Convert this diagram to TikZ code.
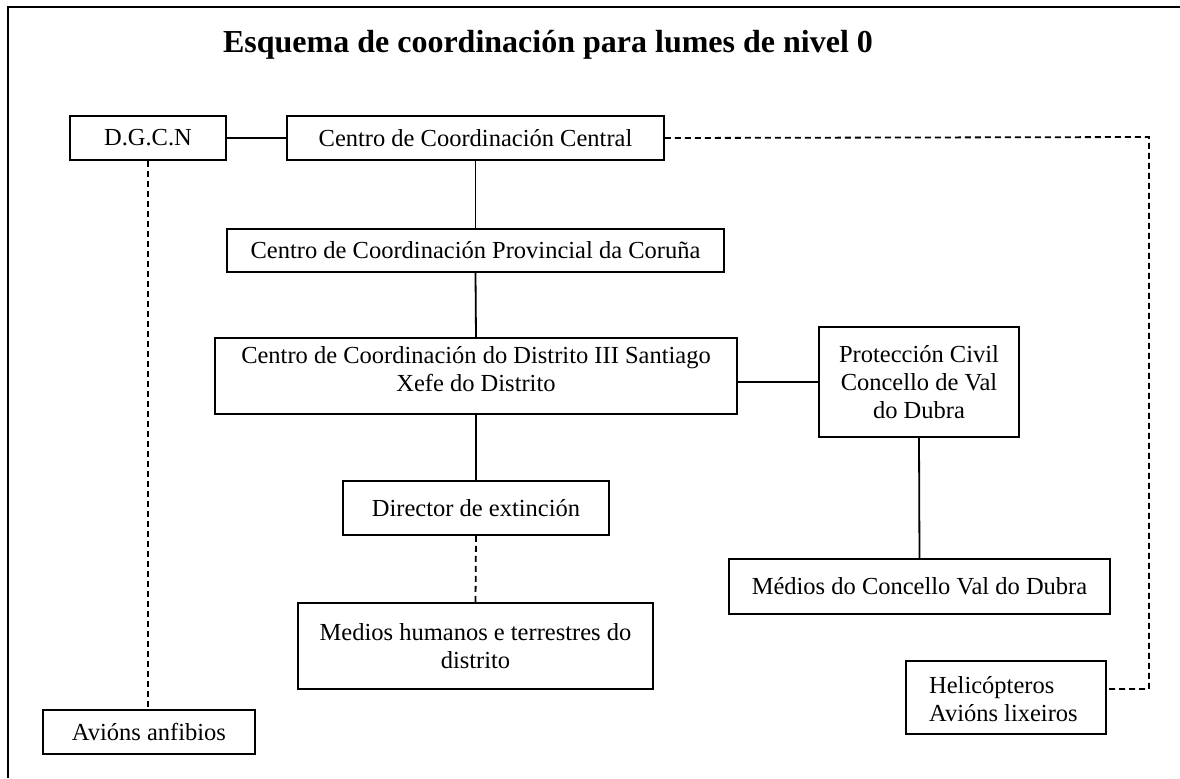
\documentclass[tikz,border=0pt]{standalone}
\usepackage{fontspec}
\setmainfont{Liberation Serif}
\begin{document}
\begin{tikzpicture}[x=0.5pt,y=-0.5pt,
  box/.style={draw=black,line width=0.9pt,rectangle,inner sep=0pt,align=center,
    font=\fontsize{12.25pt}{14pt}\selectfont},
  link/.style={draw=black,line width=0.9pt},
  dlink/.style={draw=black,line width=0.9pt,dash pattern=on 3pt off 2pt},
  frameline/.style={draw=black,line width=1pt}]
\useasboundingbox (0,0) rectangle (1180,778);
\draw[frameline] (8,778) -- (8,7) -- (1180,7);
\node (title) at (548,45) {\fontsize{16pt}{19pt}\selectfont\bfseries Esquema de coordinación para lumes de nivel 0};
\node[box,minimum width=78pt,minimum height=22pt] (dgcn) at (148,138) {D.G.C.N};
\node[box,minimum width=188.5pt,minimum height=22pt] (central) at (475.5,138) {Centro de Coordinación Central};
\node[box,minimum width=248.5pt,minimum height=21.5pt] (prov) at (475.5,250.5) {Centro de Coordinación Provincial da Coruña};
\node[box,minimum width=261pt,minimum height=38pt,
  label={[align=center,yshift=3.5pt,font=\fontsize{12.25pt}{14pt}\selectfont]center:{Centro de Coordinación do Distrito III Santiago\\Xefe do Distrito}}] (distr) at (476,376) {};
\node[box,minimum width=100pt,minimum height=55pt] (pc) at (919,382) {Protección Civil\\Concello de Val\\do Dubra};
\node[box,minimum width=133pt,minimum height=27pt] (director) at (476,508) {Director de extinción};
\node[box,minimum width=177.5pt,minimum height=43pt] (medios) at (475.5,646) {Medios humanos e terrestres do\\distrito};
\node[box,minimum width=190.5pt,minimum height=27.5pt] (mconc) at (919.5,586.5) {Médios do Concello Val do Dubra};
\node[box,minimum width=100pt,minimum height=36.5pt,
  label={[anchor=west,align=left,xshift=8.5pt,yshift=-1pt,font=\fontsize{12.25pt}{14pt}\selectfont]west:{Helicópteros\\Avións lixeiros}}] (heli) at (1006,697.5) {};
\node[box,minimum width=106pt,minimum height=22pt] (anfib) at (149,732) {Avións anfibios};
\coordinate (c1) at (1149,137);
\coordinate (c2) at (1149,689);
\draw[link] (dgcn.east) -- (central.west);
\draw[link] (central.south) -- (prov.north);
\draw[link] (prov.south) -- (distr.north);
\draw[link] (distr.south) -- (director.north);
\draw[dlink] (director.south) -- (medios.north);
\draw[link] (pc.west) -- (pc.west -| distr.east);
\draw[link] (pc.south) -- (mconc.north);
\draw[dlink] (dgcn.south) -- (dgcn.south |- anfib.north);
\draw[dlink] (central.east) -- (c1) -- (c2) -- (c2 -| heli.east);
\end{tikzpicture}
\end{document}
